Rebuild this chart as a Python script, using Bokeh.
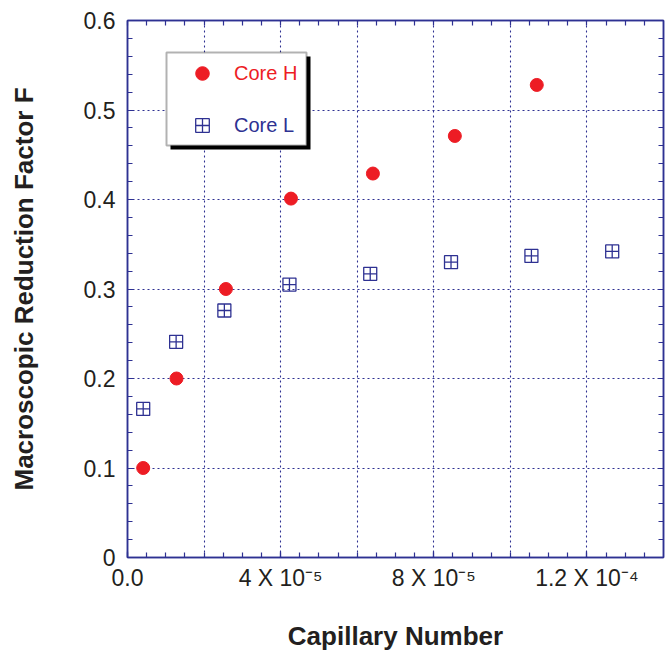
from bokeh.plotting import figure
from bokeh.models import (FixedTicker, LinearAxis, Legend, LegendItem,
                          BoxAnnotation, Range1d, ColumnDataSource)
from bokeh.embed import file_html
from bokeh.resources import INLINE

# ---- data ----
core_h_x = [0.41e-5, 1.28e-5, 2.57e-5, 4.27e-5, 6.41e-5, 8.55e-5, 10.69e-5]
core_h_y = [0.100, 0.200, 0.300, 0.401, 0.429, 0.471, 0.528]
core_l_x = [0.41e-5, 1.27e-5, 2.53e-5, 4.23e-5, 6.34e-5, 8.45e-5, 10.55e-5, 12.66e-5]
core_l_y = [0.166, 0.241, 0.276, 0.305, 0.317, 0.330, 0.337, 0.342]

x_tick_values = [0.0, 4e-5, 8e-5, 1.2e-4]
x_tick_labels = ["0.0", "4 X 10\u207b\u2075", "8 X 10\u207b\u2075", "1.2 X 10\u207b\u2074"]
x_grid_values = [2e-5, 4e-5, 6e-5, 8e-5, 1.0e-4, 1.2e-4]
y_tick_values = [0.0, 0.1, 0.2, 0.3, 0.4, 0.5, 0.6]
y_tick_labels = ["0", "0.1", "0.2", "0.3", "0.4", "0.5", "0.6"]

series_names = ["Core H", "Core L"]

RED = "#ED1C24"
NAVY = "#2E3192"
INK = "#231F20"
FONT = "Liberation Sans"

X_MAX = 1.4e-4
Y_MAX = 0.6
FW, FH = 536, 537

p = figure(width=668, height=648, output_backend="svg", toolbar_location=None,
           x_range=Range1d(0, X_MAX), y_range=Range1d(0, Y_MAX),
           frame_width=FW, frame_height=FH,
           min_border_left=127, min_border_top=20, min_border_right=5,
           min_border_bottom=91)
p.background_fill_color = "white"
p.border_fill_color = "white"
p.outline_line_color = NAVY
p.outline_line_width = 1.5

x_minor = [i * 5e-6 for i in range(0, 29)]
y_minor = [round(i * 0.02, 3) for i in range(0, 31)]

def style_axis(ax, ticks, minor, labels=None):
    ax.ticker = FixedTicker(ticks=ticks, minor_ticks=minor)
    ax.axis_line_color = NAVY
    ax.axis_line_width = 1.5
    ax.major_tick_line_color = NAVY
    ax.minor_tick_line_color = NAVY
    ax.major_tick_line_width = 1.2
    ax.minor_tick_line_width = 1.2
    ax.major_tick_in = 6
    ax.major_tick_out = 0
    ax.minor_tick_in = 5
    ax.minor_tick_out = 0
    if labels is not None:
        ax.major_label_overrides = {v: l for v, l in zip(ticks, labels)}
    ax.major_label_text_font = FONT
    ax.major_label_text_color = INK
    ax.major_label_text_font_size = "23px"

xa = p.xaxis[0]
style_axis(xa, x_tick_values, x_minor, x_tick_labels)
xa.major_label_standoff = 7
xa.axis_label = "Capillary Number"
xa.axis_label_text_font = FONT
xa.axis_label_text_font_style = "bold"
xa.axis_label_text_font_size = "26px"
xa.axis_label_text_color = INK
xa.axis_label_standoff = 27

ya = p.yaxis[0]
style_axis(ya, y_tick_values, y_minor, y_tick_labels)
ya.major_label_standoff = 12
ya.axis_label = "Macroscopic Reduction Factor F"
ya.axis_label_text_font = FONT
ya.axis_label_text_font_style = "bold"
ya.axis_label_text_font_size = "26px"
ya.axis_label_text_color = INK
ya.axis_label_standoff = 42

# mirrored tick marks on top and right (no labels)
top_ax = LinearAxis()
style_axis(top_ax, [], x_minor)
p.add_layout(top_ax, "above")
right_ax = LinearAxis()
style_axis(right_ax, [], y_minor)
p.add_layout(right_ax, "right")

# grid
p.xgrid.ticker = FixedTicker(ticks=x_grid_values)
p.ygrid.ticker = FixedTicker(ticks=y_tick_values[1:-1])
for g in (p.xgrid, p.ygrid):
    g.grid_line_color = NAVY
    g.grid_line_width = 1.1
    g.grid_line_dash = "2 3"

# data
src_h = ColumnDataSource(dict(x=core_h_x, y=core_h_y))
src_l = ColumnDataSource(dict(x=core_l_x, y=core_l_y))
r_h = p.scatter("x", "y", source=src_h, marker="circle", size=13,
                fill_color=RED, line_color=RED)
r_l = p.scatter("x", "y", source=src_l, marker="square_cross", size=13,
                fill_color=None, line_color=NAVY, line_width=1.3)

# legend box (shadow + frame), positioned in data units from pixel layout
def px_x(px):
    return px / FW * X_MAX

def px_y_from_top(px):
    return Y_MAX - px / FH * Y_MAX

box_l, box_r, box_t, box_b = 39, 179, 32, 125
sh = 4
p.add_layout(BoxAnnotation(left=px_x(box_l + sh), right=px_x(box_r + sh),
                           top=px_y_from_top(box_t + sh), bottom=px_y_from_top(box_b + sh),
                           fill_color="black", fill_alpha=1, line_alpha=0))
p.add_layout(BoxAnnotation(left=px_x(box_l), right=px_x(box_r),
                           top=px_y_from_top(box_t), bottom=px_y_from_top(box_b),
                           fill_color="white", fill_alpha=1, line_color="black",
                           line_width=2))

def make_legend(name, renderer, color, center_from_top):
    leg = Legend(items=[LegendItem(label=name, renderers=[renderer])],
                 location=(box_l + 6, FH - center_from_top - 17),
                 orientation="vertical", margin=0, padding=0,
                 glyph_width=60, glyph_height=34, label_height=34,
                 label_standoff=2, label_text_font=FONT,
                 label_text_font_size="20px", label_text_color=color,
                 border_line_alpha=0, background_fill_alpha=0)
    p.add_layout(leg, "center")

make_legend(series_names[0], r_h, RED, box_t + 21)
make_legend(series_names[1], r_l, NAVY, box_t + 73)

open("out.html", "w").write(file_html(p, INLINE))
